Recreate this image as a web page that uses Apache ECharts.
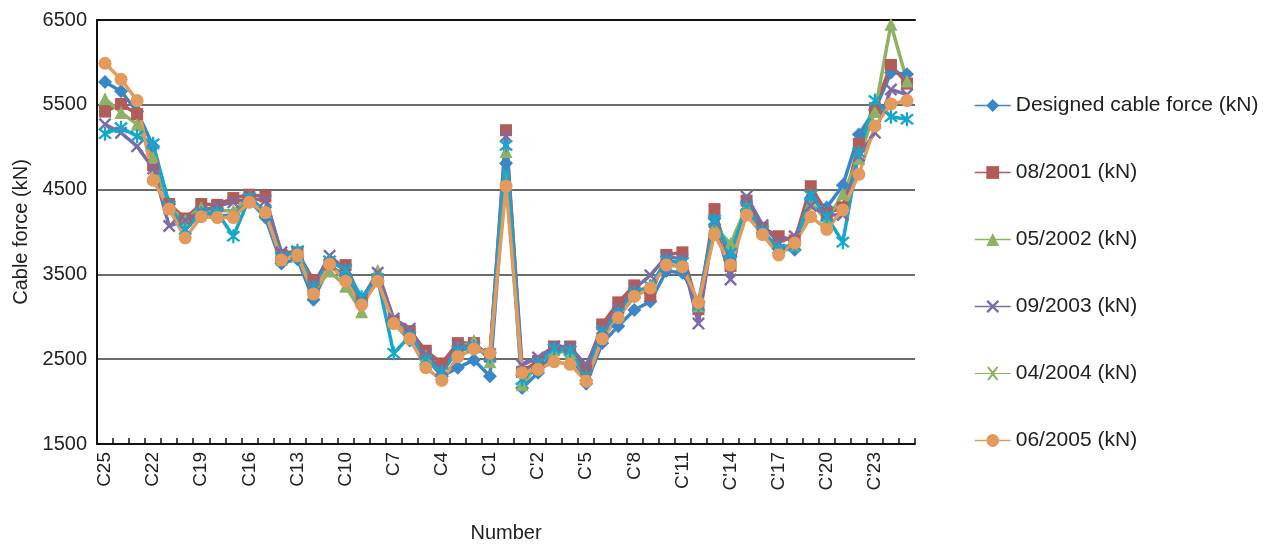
<!DOCTYPE html>
<html>
<head>
<meta charset="utf-8">
<script src="https://cdn.jsdelivr.net/npm/echarts@6/dist/echarts.min.js"></script>
<style>
html,body{margin:0;padding:0;background:#fff;}
#chart{width:1272px;height:548px;}
</style>
</head>
<body>
<div id="chart"></div>
<script>
// Categories: C25 ... C1, centre cable, C'1 ... C'25
var categories = [];
for (var k = 25; k >= 1; k--) categories.push('C' + k);
categories.push('C0');
for (var k2 = 1; k2 <= 25; k2++) categories.push("C'" + k2);

var seriesNames = ['Designed cable force (kN)', '08/2001 (kN)', '05/2002 (kN)', '09/2003 (kN)', '04/2004 (kN)', '06/2005 (kN)'];

var designed = [5770,5660,5420,5010,4330,4080,4220,4190,4200,4370,4170,3630,3680,3200,3610,3480,3150,3430,2930,2720,2520,2300,2400,2490,2300,
  4810,
  2160,2340,2600,2580,2210,2690,2890,3080,3180,3540,3520,3170,4160,3710,4260,3990,3800,3790,4400,4290,4550,5150,5440,5880,5860];
var m2001 = [5420,5510,5390,4790,4330,4160,4330,4320,4400,4440,4420,3730,3760,3430,3620,3610,3190,3440,2950,2830,2600,2450,2690,2690,2530,
  5200,
  2350,2480,2650,2650,2380,2910,3170,3370,3250,3730,3760,3090,4270,3600,4370,4050,3950,3900,4540,4220,4290,5040,5460,5970,5750];
var m2002 = [5570,5410,5270,4880,4290,4140,4290,4250,4250,4410,4240,3680,3720,3290,3540,3360,3060,3550,2950,2780,2540,2330,2630,2720,2470,
  4950,
  2200,2440,2610,2580,2290,2800,3050,3280,3370,3660,3630,3130,4070,3860,4300,4000,3820,3850,4340,4140,4450,4870,5420,6450,5780];
var m2003 = [5270,5170,5010,4750,4070,4140,4240,4310,4350,4400,4370,3760,3760,3380,3720,3560,3210,3520,2980,2860,2560,2380,2660,2650,2560,
  5130,
  2430,2520,2650,2640,2430,2860,3100,3330,3490,3710,3680,2920,4120,3440,4420,4080,3880,3950,4310,4200,4200,4900,5170,5680,5620];
var m2004 = [5160,5230,5130,5040,4310,4030,4220,4230,3950,4400,4240,3700,3780,3350,3660,3550,3230,3450,2570,2770,2490,2350,2600,2640,2530,
  5020,
  2260,2450,2620,2600,2300,2820,3040,3280,3360,3660,3640,3130,4140,3750,4290,4010,3800,3840,4430,4180,3880,4940,5550,5360,5330];
var m2005 = [5990,5800,5550,4610,4270,3930,4180,4170,4170,4350,4230,3670,3730,3270,3620,3420,3140,3420,2920,2740,2400,2250,2530,2620,2570,
  4540,
  2340,2380,2470,2440,2240,2740,2990,3240,3340,3610,3590,3170,3970,3610,4200,3970,3730,3870,4180,4030,4260,4680,5250,5510,5550];

var yTickLabels = [1500, 2500, 3500, 4500, 5500, 6500];

var colors = ['#3b87c6', '#b25c57', '#8fb067', '#7b6ba6', '#16a7ca', '#e39a5c'];
var xPath = 'path://M0,1.3 L1.3,0 L5,3.7 L8.7,0 L10,1.3 L6.3,5 L10,8.7 L8.7,10 L5,6.3 L1.3,10 L0,8.7 L3.7,5 Z';
var starPath = 'path://M0,1.3 L1.3,0 L5,3.7 L8.7,0 L10,1.3 L6.3,5 L10,8.7 L8.7,10 L5,6.3 L1.3,10 L0,8.7 L3.7,5 Z M4.2,-1 L5.8,-1 L5.8,11 L4.2,11 Z';
var legendXPath = 'path://M0,7.4 L36,7.4 L36,8.6 L0,8.6 Z M12.5,2 L13.7,0.8 L18,5.8 L22.3,0.8 L23.5,2 L19.2,8 L23.5,14 L22.3,15.2 L18,10.2 L13.7,15.2 L12.5,14 L16.8,8 Z M0,0 L0.01,0 L0.01,0.01 Z M35.99,16 L36,16 L36,15.99 Z';

var dataSets = [designed, m2001, m2002, m2003, m2004, m2005];
var symbols = ['diamond', 'rect', 'triangle', xPath, starPath, 'circle'];
var sizes = [14, 12, 13, 13, 14, 13];

var series = dataSets.map(function (d, i) {
  return {
    name: seriesNames[i],
    type: 'line',
    data: d,
    symbol: symbols[i],
    symbolSize: sizes[i],
    showAllSymbol: true,
    lineStyle: { width: 3.5, color: colors[i] },
    itemStyle: { color: colors[i] },
    emphasis: { disabled: true },
    animation: false
  };
});

var legendData = seriesNames.map(function (n, i) {
  if (i === 4) {
    return { name: n, icon: legendXPath, itemStyle: { color: '#8fb067' } };
  }
  return { name: n };
});

var textColor = '#222';
var chart = echarts.init(document.getElementById('chart'), null, { renderer: 'canvas' });
chart.setOption({
  backgroundColor: '#fff',
  animation: false,
  grid: { left: 97, right: 357, top: 20, bottom: 104, containLabel: false },
  legend: {
    orient: 'vertical',
    left: 969,
    top: 90,
    itemWidth: 36,
    itemHeight: 16,
    itemGap: 46,
    data: legendData,
    lineStyle: { width: 1.5 },
    textStyle: { fontSize: 21, color: textColor, fontFamily: 'Liberation Sans, Arial, sans-serif', lineHeight: 21 },
    selectedMode: false
  },
  xAxis: [{
    type: 'category',
    data: categories,
    boundaryGap: true,
    name: 'Number',
    nameLocation: 'middle',
    nameGap: 79,
    nameTextStyle: { fontSize: 20, color: textColor, fontFamily: 'Liberation Sans, Arial, sans-serif' },
    axisLine: { lineStyle: { color: '#111', width: 2 } },
    axisTick: { show: true, inside: true, interval: 0, length: 6, lineStyle: { color: '#111', width: 1.5 } },
    axisLabel: { interval: 2, rotate: 90, margin: 8, fontSize: 19, color: textColor, fontFamily: 'Liberation Sans, Arial, sans-serif' },
    splitLine: { show: false }
  }, {
    type: 'category',
    data: categories,
    position: 'top',
    axisLine: { lineStyle: { color: '#111', width: 2 } },
    axisTick: { show: false },
    axisLabel: { show: false },
    splitLine: { show: false }
  }],
  yAxis: {
    type: 'value',
    min: 1500,
    max: 6500,
    interval: 500,
    name: 'Cable force (kN)',
    nameLocation: 'middle',
    nameGap: 66,
    nameTextStyle: { fontSize: 20, color: textColor, fontFamily: 'Liberation Sans, Arial, sans-serif' },
    axisLine: { show: true, lineStyle: { color: '#111', width: 2 } },
    axisTick: { show: false },
    axisLabel: {
      margin: 10, fontSize: 20, color: textColor, fontFamily: 'Liberation Sans, Arial, sans-serif',
      formatter: function (v) { return yTickLabels.indexOf(v) >= 0 ? String(v) : ''; }
    },
    splitLine: { show: true, lineStyle: { color: ['#3a3a3a', 'rgba(0,0,0,0)'], width: 1.5 } }
  },
  series: series
});
</script>
</body>
</html>
